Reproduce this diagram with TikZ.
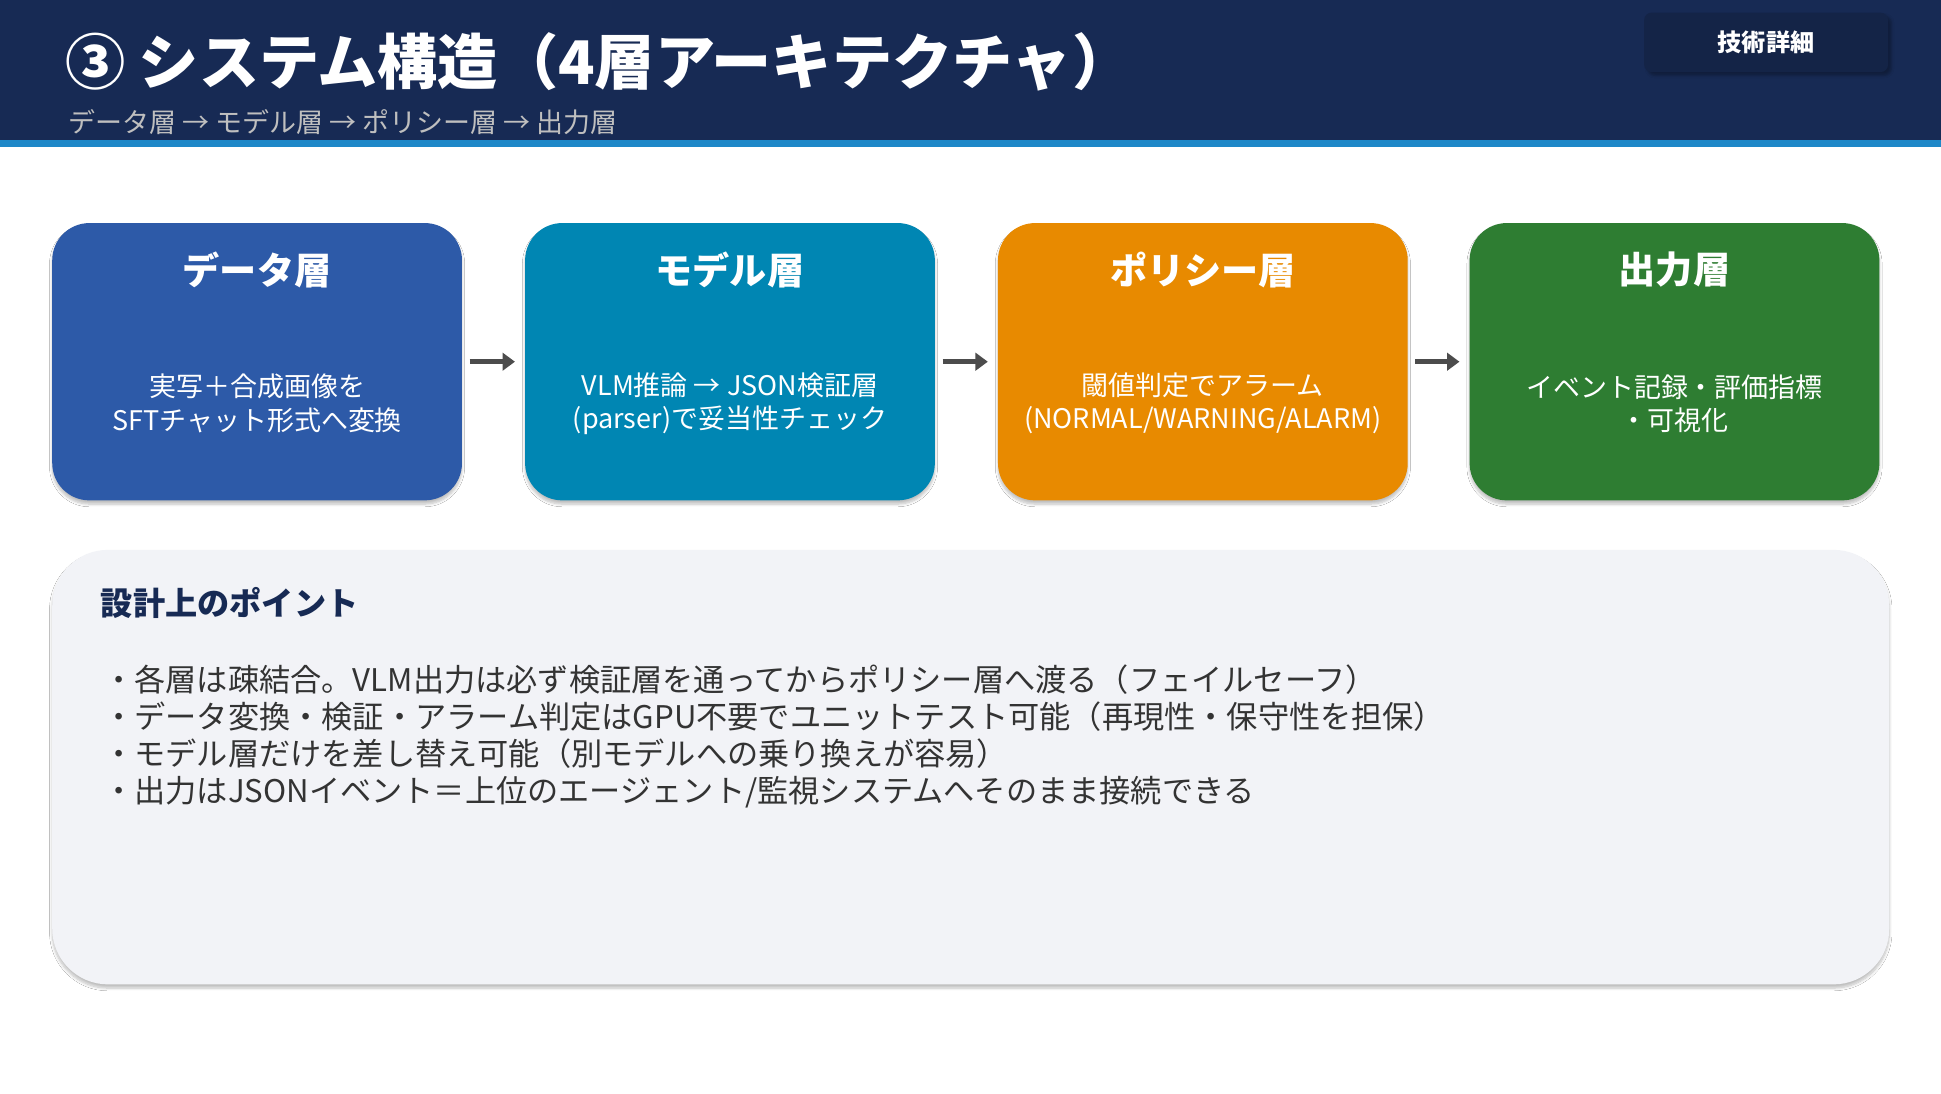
\documentclass[tikz,border=0pt]{standalone}
\usepackage{fontspec}
\setmainfont{Noto Sans CJK JP}
\usetikzlibrary{shadows.blur,arrows.meta}
\definecolor{navy}{HTML}{172A54}
\definecolor{lineblue}{HTML}{1E88C8}
\definecolor{cA}{HTML}{2D5AA8}
\definecolor{cB}{HTML}{0086B3}
\definecolor{cC}{HTML}{E88A00}
\definecolor{cD}{HTML}{2E7D32}
\definecolor{panel}{HTML}{F2F3F7}
\definecolor{txt}{HTML}{333333}
\begin{document}
\begin{tikzpicture}[x=1pt,y=-1pt,
  layer/.style={rounded corners=30pt,minimum width=331pt,minimum height=224pt,anchor=north west,blur shadow={shadow blur steps=6,shadow xshift=0pt,shadow yshift=-3pt,shadow opacity=25}},
  ttl/.style={text=white,font=\bfseries\fontsize{30}{34}\selectfont},
  body/.style={text=white,align=center,font=\fontsize{21.8}{27}\selectfont},
  arr/.style={-{Triangle[length=10pt,width=14pt]},line width=4pt,draw=black!70},
  bul/.style={anchor=west,text=txt,font=\fontsize{25.2}{28}\selectfont}]
\useasboundingbox (0,0) rectangle (1568,883);
\fill[white] (0,0) rectangle (1568,883);
\fill[navy] (0,0) rectangle (1568,113);
\fill[lineblue] (0,113) rectangle (1568,119);
\node[anchor=west,text=white,font=\bfseries\fontsize{48.6}{52}\selectfont] (title) at (49,50) {③ システム構造（4層アーキテクチャ）};
\node[anchor=west,text=black!25,font=\fontsize{21.8}{24}\selectfont] (sub) at (52,99) {データ層 → モデル層 → ポリシー層 → 出力層};
\node[fill=navy!85!black,rounded corners=6pt,minimum width=197pt,minimum height=48pt,anchor=north west,blur shadow={shadow blur steps=4,shadow opacity=30}] (tag) at (1328,10) {};
\node[text=white,font=\bfseries\fontsize{19.5}{22}\selectfont] at (tag.center) {技術詳細};
\foreach \n/\x/\c/\t/\b in {a/42/cA/データ層/{実写＋合成画像を\\SFTチャット形式へ変換},
  b/424/cB/モデル層/{VLM推論 → JSON検証層\\(parser)で妥当性チェック},
  c/806/cC/ポリシー層/{閾値判定でアラーム\\(NORMAL/WARNING/ALARM)},
  d/1187/cD/出力層/{イベント記録・評価指標\\・可視化}}{
  \node[layer,fill=\c] (\n) at (\x,180) {};
  \node[ttl] (\n t) at ([yshift=-38pt]\n.north) {\t};
  \node[body] (\n b) at ([yshift=-146pt]\n.north) {\b};
}
\draw[arr] ([xshift=6pt]a.east) -- ([xshift=-8pt]b.west);
\draw[arr] ([xshift=6pt]b.east) -- ([xshift=-8pt]c.west);
\draw[arr] ([xshift=6pt]c.east) -- ([xshift=-8pt]d.west);
\node[fill=panel,rounded corners=45pt,minimum width=1484pt,minimum height=351pt,anchor=north west,blur shadow={shadow blur steps=8,shadow xshift=0pt,shadow yshift=-3pt,shadow opacity=25}] (panel) at (42,444) {};
\node[anchor=west,text=navy,font=\bfseries\fontsize{26}{30}\selectfont] (pt) at (78,487) {設計上のポイント};
\node[bul] (l1) at (80,549) {・各層は疎結合。VLM出力は必ず検証層を通ってからポリシー層へ渡る（フェイルセーフ）};
\node[bul] (l2) at (80,579) {・データ変換・検証・アラーム判定はGPU不要でユニットテスト可能（再現性・保守性を担保）};
\node[bul] (l3) at (80,609) {・モデル層だけを差し替え可能（別モデルへの乗り換えが容易）};
\node[bul] (l4) at (80,640) {・出力はJSONイベント＝上位のエージェント/監視システムへそのまま接続できる};
\end{tikzpicture}
\end{document}
